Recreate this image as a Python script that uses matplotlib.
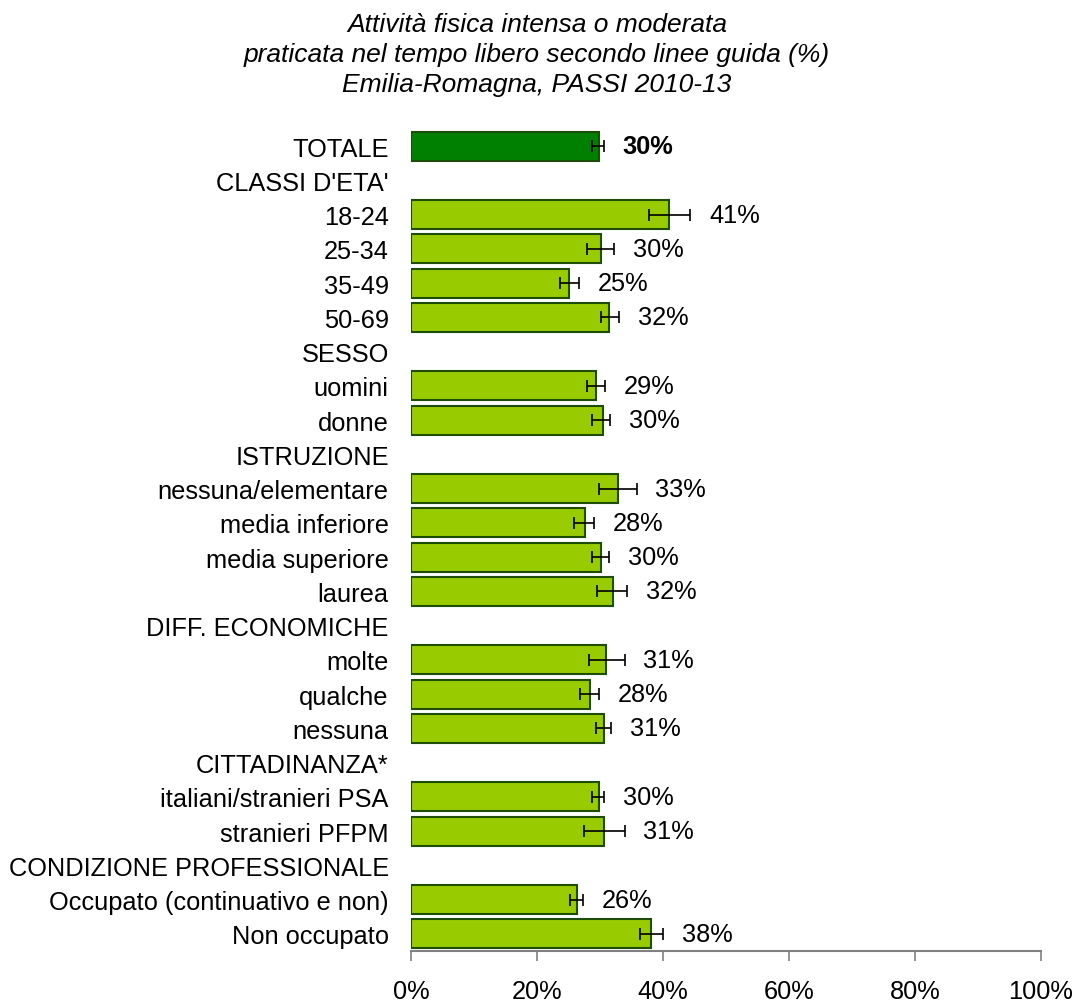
import matplotlib
matplotlib.use("Agg")
import matplotlib.pyplot as plt
from matplotlib.ticker import FixedLocator, FuncFormatter

plt.rcParams['font.family'] = ['Liberation Sans', 'DejaVu Sans']

labels = ["TOTALE", "CLASSI D'ETA'", "18-24", "25-34", "35-49", "50-69",
          "SESSO", "uomini", "donne", "ISTRUZIONE", "nessuna/elementare",
          "media inferiore", "media superiore", "laurea", "DIFF. ECONOMICHE",
          "molte", "qualche", "nessuna", "CITTADINANZA*",
          "italiani/stranieri PSA", "stranieri PFPM",
          "CONDIZIONE PROFESSIONALE", "Occupato (continuativo e non)",
          "Non occupato"]
values = [29.9, None, 41.0, 30.2, 25.0, 31.5, None, 29.4, 30.5, None,
          32.8, 27.6, 30.2, 32.0, None, 31.0, 28.4, 30.6, None, 29.9, 30.7,
          None, 26.3, 38.1]
ci_low = [28.8, None, 37.8, 28.0, 23.7, 30.1, None, 27.9, 28.7, None,
          29.8, 25.9, 28.8, 29.6, None, 28.3, 26.8, 29.4, None, 28.8, 27.5,
          None, 25.2, 36.3]
ci_high = [30.6, None, 44.3, 32.2, 26.6, 33.0, None, 30.8, 31.6, None,
           35.8, 29.1, 31.5, 34.3, None, 33.9, 29.8, 31.7, None, 30.6, 33.9,
           None, 27.3, 40.0]
value_labels = ["30%", "", "41%", "30%", "25%", "32%", "", "29%", "30%", "",
                "33%", "28%", "30%", "32%", "", "31%", "28%", "31%", "",
                "30%", "31%", "", "26%", "38%"]
x_ticks = [0, 20, 40, 60, 80, 100]
title_lines = ["Attività fisica intensa o moderata",
               "praticata nel tempo libero secondo linee guida (%)",
               "Emilia-Romagna, PASSI 2010-13"]

fig = plt.figure(figsize=(10.79, 10.03), dpi=100)
ax = fig.add_axes([411/1079, 1-952/1003, 630/1079, (952-130)/1003])

n = len(labels)
fs = 18.3
for i, (lab, v, lo, hi, vl) in enumerate(zip(labels, values, ci_low, ci_high, value_labels)):
    y = i
    if v is None:
        continue
    color = "#008000" if i == 0 else "#99CC00"
    ax.barh(y, v, height=0.84, color=color, edgecolor="#1E4D0A", linewidth=1.5, zorder=2)
    ax.errorbar(v, y, xerr=[[v - lo], [hi - v]], fmt="none", ecolor="black",
                elinewidth=1.2, capsize=4, capthick=1.2, zorder=3)
    ax.text(hi + 3.0, y, vl, va="center", ha="left", fontsize=fs,
            fontweight="bold" if i == 0 else "normal")

ax.set_ylim(n - 0.5, -0.5)
ax.set_xlim(0, 100)
ax.set_yticks(range(n))
ax.set_yticklabels(labels, fontsize=fs)
ax.tick_params(axis="y", length=0, pad=16)
ax.xaxis.set_major_locator(FixedLocator(x_ticks))
ax.xaxis.set_major_formatter(FuncFormatter(lambda x, p: f"{int(x)}%"))
ax.tick_params(axis="x", direction="out", length=7, width=1.2, color="#808080",
               labelsize=fs, pad=13)
for s in ["top", "right", "left"]:
    ax.spines[s].set_visible(False)
ax.spines["bottom"].set_color("#808080")
ax.spines["bottom"].set_linewidth(1.5)

for k, line in enumerate(title_lines):
    fig.text(537/1079, 1 - (32 + 30*k)/1003, line, ha="center", va="baseline",
             fontsize=19, style="italic")

fig.savefig("out.png", dpi=100)
